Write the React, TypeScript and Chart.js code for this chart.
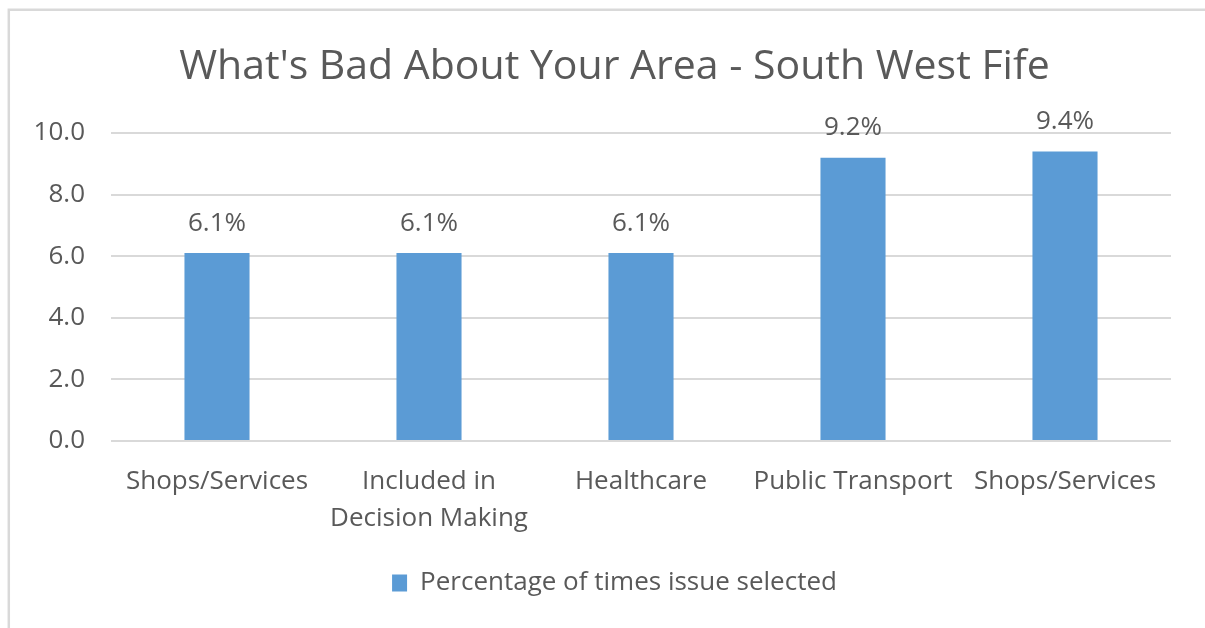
import React, { useEffect, useRef } from "react";
import { Chart, registerables } from "chart.js";

Chart.register(...registerables);

const TITLE = "What's Bad About Your Area - South West Fife";
const SERIES_LABEL = "Percentage of times issue selected";
const categories: (string | string[])[] = [
  "Shops/Services",
  ["Included in", "Decision Making"],
  "Healthcare",
  "Public Transport",
  "Shops/Services",
];
const values: number[] = [6.1, 6.1, 6.1, 9.2, 9.4];
const yTicks = { min: 0, max: 10, step: 2 };

const FONT = "'Open Sans', 'Noto Sans', sans-serif";
const TEXT = "#595959";
const GRID = "#d9d9d9";
const BAR = "#5b9bd5";

const framePlugin = {
  id: "frame",
  beforeDraw(chart: any) {
    const { ctx, width, height } = chart;
    ctx.save();
    ctx.fillStyle = "#ffffff";
    ctx.fillRect(0, 0, width, height);
    ctx.strokeStyle = GRID;
    ctx.lineWidth = 2.5;
    ctx.beginPath();
    ctx.moveTo(8.8, height);
    ctx.lineTo(8.8, 9.7);
    ctx.lineTo(width, 9.7);
    ctx.stroke();
    ctx.restore();
  },
};

const dataLabelPlugin = {
  id: "dataLabels",
  afterDatasetsDraw(chart: any) {
    const { ctx } = chart;
    const meta = chart.getDatasetMeta(0);
    ctx.save();
    ctx.fillStyle = TEXT;
    ctx.font = `26px ${FONT}`;
    ctx.textAlign = "center";
    ctx.textBaseline = "middle";
    meta.data.forEach((bar: any, i: number) => {
      const v = chart.data.datasets[0].data[i] as number;
      ctx.fillText(v.toFixed(1) + "%", bar.x, bar.y - 30);
    });
    ctx.restore();
  },
};

export default function App() {
  const ref = useRef<HTMLCanvasElement | null>(null);
  useEffect(() => {
    if (!ref.current) return;
    const chart = new Chart(ref.current, {
      type: "bar",
      data: {
        labels: categories,
        datasets: [
          {
            label: SERIES_LABEL,
            data: values,
            backgroundColor: BAR,
            borderWidth: 0,
            categoryPercentage: 1,
            barPercentage: 0.307,
          },
        ],
      },
      options: {
        animation: false,
        responsive: false,
        maintainAspectRatio: false,
        layout: { padding: { left: 24, right: 0, top: 0, bottom: 22 } },
        plugins: {
          title: {
            display: true,
            text: TITLE,
            color: TEXT,
            font: { family: FONT, size: 41, weight: "normal", lineHeight: 1.2 },
            padding: { top: 42.5, bottom: 41.3 },
          },
          legend: {
            display: true,
            position: "bottom",
            labels: {
              color: TEXT,
              font: { family: FONT, size: 26 },
              boxWidth: 15,
              boxHeight: 17,
              padding: 10,
            },
          },
          tooltip: { enabled: false },
        },
        scales: {
          x: {
            grid: { display: false },
            border: { display: false },
            ticks: {
              color: TEXT,
              font: { family: FONT, size: 26, lineHeight: 1.43 },
              padding: 14,
              maxRotation: 0,
              autoSkip: false,
            },
            afterFit(s: any) {
              s.height = 119;
            },
          },
          y: {
            min: yTicks.min,
            max: yTicks.max,
            grid: { color: GRID, lineWidth: 2, drawTicks: false },
            border: { display: false },
            ticks: {
              stepSize: yTicks.step,
              color: TEXT,
              font: { family: FONT, size: 26 },
              padding: 26,
              callback: (v: any) => Number(v).toFixed(1),
            },
            afterFit(s: any) {
              s.width = 87;
            },
          },
          yRight: {
            type: "linear",
            position: "right",
            display: true,
            grid: { display: false },
            border: { display: false },
            ticks: { display: false },
            afterFit(s: any) {
              s.width = 34;
            },
          },
        },
      } as any,
      plugins: [framePlugin, dataLabelPlugin],
    });
    return () => chart.destroy();
  }, []);
  return (
    <div style={{ position: "absolute", left: 0, top: 0, width: 1205, height: 628 }}>
      <canvas ref={ref} width={1205} height={628} style={{ display: "block" }} />
    </div>
  );
}
